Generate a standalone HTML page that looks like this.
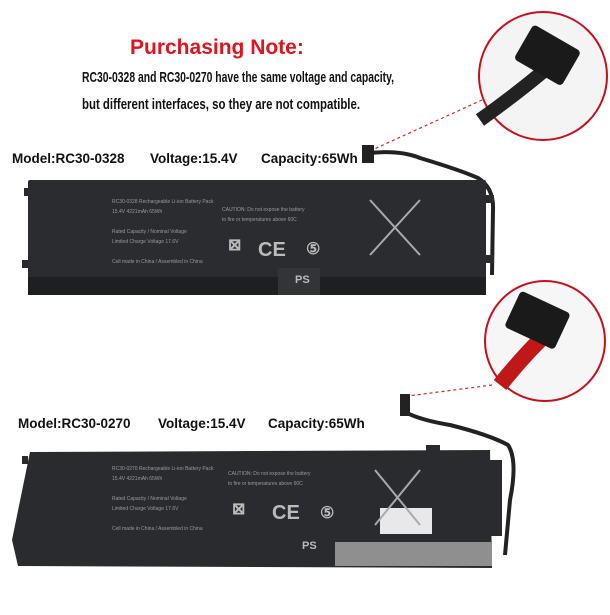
<!DOCTYPE html>
<html><head><meta charset="utf-8"><style>
body{margin:0;background:#fff;width:610px;height:610px;overflow:hidden;font-family:"Liberation Sans",sans-serif}
</style></head><body>
<svg width="610" height="610" xmlns="http://www.w3.org/2000/svg" font-family="Liberation Sans, sans-serif">
<rect width="610" height="610" fill="#fff"/>
<text x="130" y="54" font-size="21" font-weight="bold" fill="#e0141e">Purchasing Note:</text>
<text x="82" y="82" font-size="15" font-weight="bold" fill="#111" textLength="312" lengthAdjust="spacingAndGlyphs">RC30-0328 and RC30-0270 have the same voltage and capacity,</text>
<text x="82" y="109" font-size="15" font-weight="bold" fill="#111" textLength="278" lengthAdjust="spacingAndGlyphs">but different interfaces, so they are not compatible.</text>

<!-- top circle -->
<circle cx="543" cy="76" r="64" fill="#f4f4f4" stroke="#c8101c" stroke-width="2"/>
<path d="M480 120 Q515 95 545 70" stroke="#222" stroke-width="14" fill="none"/>
<rect x="520" y="35" width="55" height="40" rx="4" fill="#1a1a1a" transform="rotate(30 547 55)"/>
<line x1="482" y1="100" x2="372" y2="150" stroke="#d22" stroke-width="1.2" stroke-dasharray="3,3"/>

<text x="12" y="163" font-size="13.5" font-weight="bold" fill="#111">Model:RC30-0328</text>
<text x="150" y="163" font-size="13.5" font-weight="bold" fill="#111">Voltage:15.4V</text>
<text x="261" y="163" font-size="13.5" font-weight="bold" fill="#111">Capacity:65Wh</text>

<!-- battery 1 -->
<rect x="362" y="145" width="12" height="18" fill="#222"/>
<path d="M370 153 Q400 150 420 158 Q460 170 478 178 Q494 188 493 210 L492 275" stroke="#222" stroke-width="4" fill="none"/>
<rect x="24" y="188" width="6" height="8" fill="#2a2a2a"/>
<rect x="22" y="260" width="6" height="8" fill="#2a2a2a"/>
<rect x="486" y="195" width="8" height="8" fill="#2a2a2a"/>
<rect x="486" y="255" width="8" height="8" fill="#2a2a2a"/>
<rect x="28" y="180" width="458" height="115" rx="2" fill="#2b2c2f"/>
<rect x="28" y="277" width="458" height="18" fill="#1e1f21"/>
<rect x="278" y="268" width="42" height="27" fill="#333437"/>
<g fill="#9a9a9a" font-size="5">
<text x="112" y="203">RC30-0328 Rechargeable Li-ion Battery Pack</text>
<text x="112" y="213">15.4V 4221mAh 65Wh</text>
<text x="112" y="233">Rated Capacity / Nominal Voltage</text>
<text x="112" y="243">Limited Charge Voltage 17.6V</text>
<text x="112" y="263">Cell made in China / Assembled in China</text>
<text x="222" y="211">CAUTION: Do not expose the battery</text>
<text x="222" y="221">to fire or temperatures above 60C</text>
</g>
<g fill="#bbb" font-weight="bold">
<text x="258" y="256" font-size="20">CE</text>
<text x="306" y="254" font-size="16">⑤</text>
<text x="295" y="283" font-size="11">PS</text>
<text x="228" y="250" font-size="16">⊠</text>
</g>
<path d="M370 200 L420 255 M420 200 L370 255" stroke="#aaa" stroke-width="2"/>

<!-- second circle -->
<circle cx="545" cy="341" r="60" fill="#f6f6f6" stroke="#c8101c" stroke-width="2"/>
<path d="M500 385 Q520 360 540 340" stroke="#c01818" stroke-width="16" fill="none"/>
<rect x="510" y="300" width="55" height="40" rx="4" fill="#1a1a1a" transform="rotate(25 537 320)"/>
<line x1="492" y1="385" x2="408" y2="396" stroke="#d22" stroke-width="1.2" stroke-dasharray="3,3"/>

<text x="18" y="428" font-size="13.5" font-weight="bold" fill="#111">Model:RC30-0270</text>
<text x="158" y="428" font-size="13.5" font-weight="bold" fill="#111">Voltage:15.4V</text>
<text x="268" y="428" font-size="13.5" font-weight="bold" fill="#111">Capacity:65Wh</text>

<!-- battery 2 -->
<rect x="400" y="394" width="10" height="22" fill="#222"/>
<path d="M405 412 Q420 420 450 425 Q490 435 508 445 Q518 460 510 500 L505 555" stroke="#222" stroke-width="4" fill="none"/>
<rect x="22" y="456" width="6" height="8" fill="#2a2a2a"/>
<rect x="14" y="540" width="6" height="8" fill="#2a2a2a"/>
<rect x="488" y="460" width="14" height="76" fill="#2a2b2e"/>
<polygon points="30,452 490,450 492,568 18,566 12,540" fill="#2a2b2e"/>
<rect x="335" y="542" width="157" height="24" fill="#8f8f8f"/>
<rect x="426" y="445" width="14" height="8" fill="#2a2b2e"/>
<rect x="380" y="508" width="52" height="26" fill="#e8e8ea"/>
<g fill="#9a9a9a" font-size="5">
<text x="112" y="470">RC30-0270 Rechargeable Li-ion Battery Pack</text>
<text x="112" y="480">15.4V 4221mAh 65Wh</text>
<text x="112" y="500">Rated Capacity / Nominal Voltage</text>
<text x="112" y="510">Limited Charge Voltage 17.6V</text>
<text x="112" y="530">Cell made in China / Assembled in China</text>
<text x="228" y="475">CAUTION: Do not expose the battery</text>
<text x="228" y="485">to fire or temperatures above 60C</text>
</g>
<g fill="#bbb" font-weight="bold">
<text x="272" y="519" font-size="20">CE</text>
<text x="320" y="518" font-size="16">⑤</text>
<text x="302" y="549" font-size="11">PS</text>
<text x="232" y="514" font-size="16">⊠</text>
</g>
<path d="M375 470 L420 525 M420 470 L375 525" stroke="#aaa" stroke-width="2"/>
</svg>
</body></html>
